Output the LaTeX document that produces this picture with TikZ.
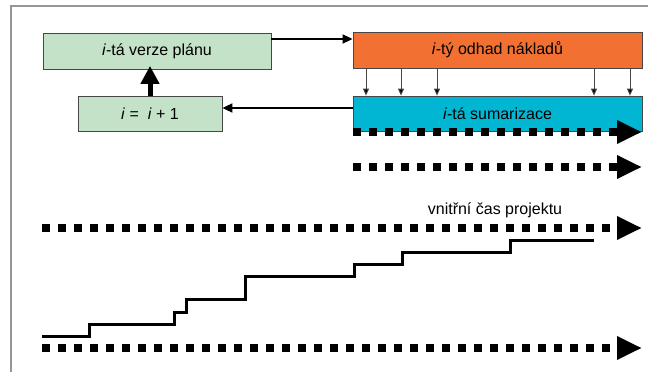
\documentclass[tikz,border=0pt]{standalone}
\usepackage{fontspec}
\setmainfont{Liberation Sans}
\usetikzlibrary{arrows.meta}
\definecolor{boxgreen}{RGB}{196,226,200}
\definecolor{boxorange}{RGB}{242,112,50}
\definecolor{boxcyan}{RGB}{0,182,210}
\definecolor{framegray}{RGB}{150,150,150}
\definecolor{edgegray}{RGB}{70,70,70}
\tikzset{
  box/.style={draw=edgegray, line width=0.8pt, inner sep=0pt, font=\fontsize{16}{18}\selectfont},
  conn/.style={line width=1.8pt, -{Triangle[length=10pt,width=9pt]}},
  thinconn/.style={draw=edgegray, line width=0.9pt, -{Triangle[length=7pt,width=6pt,fill=black]}},
  dotline/.style={line width=8pt, dash pattern=on 8pt off 8pt, -{Triangle[length=25pt,width=22pt]}},
  stair/.style={line width=3pt, line join=miter},
  lbl/.style={font=\fontsize{16}{18}\selectfont}
}
\begin{document}
\begin{tikzpicture}[x=1pt,y=-1pt]
\useasboundingbox (0,0) rectangle (648,372);
\fill[white] (0,0) rectangle (648,372);
% frame
\draw[framegray, line width=1.5pt] (648,6) -- (11,6) -- (11,372);
% boxes
\node[box, fill=boxgreen, minimum width=228pt, minimum height=36pt] (verze) at (157,51.5) {\textit{i}-tá verze plánu};
\node[box, fill=boxgreen, minimum width=144pt, minimum height=35pt] (inc) at (150,114) {\textit{i} =\ \ \textit{i} + 1};
\node[box, fill=boxorange, minimum width=289pt, minimum height=36pt] (odhad) at (497.5,50) {\textit{i}-tý odhad nákladů};
\node[box, fill=boxcyan, minimum width=289pt, minimum height=35pt, text depth=-2pt] (sum) at (497.5,113.5) {\textit{i}-tá sumarizace};
% connectors
\draw[conn] (verze.east |- 0,39) -- (odhad.west |- 0,39);
\draw[conn] (sum.west |- 0,108) -- (inc.east |- 0,108);
\draw[line width=5pt, -{Triangle[length=18pt,width=18pt]}] (inc.north) -- ([yshift=4pt]verze.south -| inc.north);
\foreach \x in {366,401,437,594,630}{
  \draw[thinconn] (odhad.south -| \x,0) -- (sum.north -| \x,0);
}
% dotted time arrows
\coordinate (d1s) at (353,132); \coordinate (d1e) at (642,132);
\coordinate (d2s) at (353,167); \coordinate (d2e) at (642,167);
\coordinate (d3s) at (42,228); \coordinate (d3e) at (642,228);
\coordinate (d4s) at (42,348); \coordinate (d4e) at (642,348);
\draw[dotline] (d1s) -- (d1e);
\draw[dotline] (d2s) -- (d2e);
\draw[dotline] (d3s) -- (d3e);
\draw[dotline] (d4s) -- (d4e);
\node[lbl] (cas) at (495,210) {vnitřní čas projektu};
% staircase
\coordinate (s0) at (42,336);
\draw[stair] (s0) -| (89,324) -| (174,312) -| (186,299) -| (245,276) -| (354,264) -| (402,252) -| (510,240) -- (594,240);
\end{tikzpicture}
\end{document}
